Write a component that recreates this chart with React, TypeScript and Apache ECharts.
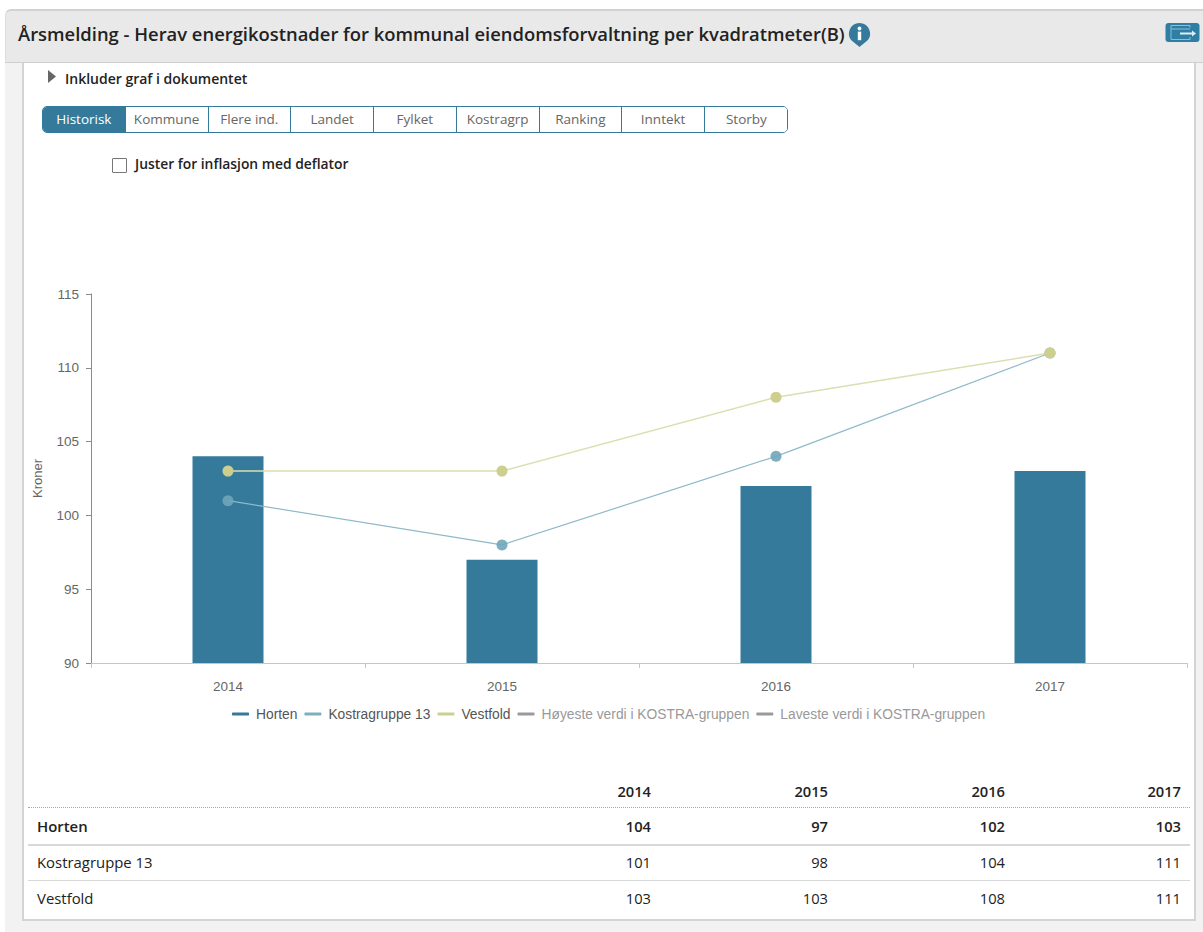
import React, { useEffect, useRef } from "react";
import * as echarts from "echarts";

const title = "Årsmelding - Herav energikostnader for kommunal eiendomsforvaltning per kvadratmeter(B)";
const tabs = ["Historisk", "Kommune", "Flere ind.", "Landet", "Fylket", "Kostragrp", "Ranking", "Inntekt", "Storby"];
const years = ["2014", "2015", "2016", "2017"];
const horten = [104, 97, 102, 103];
const kostragruppe = [101, 98, 104, 111];
const vestfold = [103, 103, 108, 111];
const highName = "Høyeste verdi i KOSTRA-gruppen";
const lowName = "Laveste verdi i KOSTRA-gruppen";
const rows = [
  { name: "Horten", values: horten, bold: true },
  { name: "Kostragruppe 13", values: kostragruppe, bold: false },
  { name: "Vestfold", values: vestfold, bold: false },
];
const rowTops = [808, 845, 880];
const rowHeights = [36, 34, 36];
const yearRight = [651, 828, 1005, 1181];

const BLUE = "#367a9b";
const TEAL = "#6fa6ba";
const KHAKI = "#cccf8e";
const UI = "'Open Sans', sans-serif";
const CHART = "'Liberation Sans', Arial, sans-serif";

function abs(left: number, top: number, width: number, height: number): React.CSSProperties {
  return { position: "absolute", left, top, width, height, boxSizing: "border-box" };
}

export default function App() {
  const ref = useRef<HTMLDivElement>(null);
  useEffect(() => {
    document.body.style.margin = "0";
    const chart = echarts.init(ref.current!, undefined, { renderer: "svg" });
    const legendText = (color: string) => ({ color, fontSize: 13.8, fontFamily: CHART, padding: [0, 0, 0, 2] });
    chart.setOption({
      animation: false,
      grid: { left: 66, right: 8, top: 54, bottom: 77 },
      legend: {
        left: 209,
        top: 467,
        padding: 0,
        itemWidth: 17,
        itemHeight: 3,
        itemGap: 7,
        icon: "roundRect",
        selectedMode: false,
        data: [
          { name: "Horten", textStyle: legendText("#555") },
          { name: "Kostragruppe 13", textStyle: legendText("#555") },
          { name: "Vestfold", textStyle: legendText("#555") },
          { name: highName, textStyle: legendText("#999") },
          { name: lowName, textStyle: legendText("#999") },
        ],
      },
      xAxis: {
        type: "category",
        data: years,
        axisLine: { lineStyle: { color: "#c6c6c6", width: 1 } },
        axisTick: { show: true, length: 5, alignWithLabel: false, lineStyle: { color: "#c6c6c6" } },
        axisLabel: { color: "#666", fontSize: 13.5, fontFamily: CHART, margin: 16 },
      },
      yAxis: {
        type: "value",
        min: 90,
        max: 115,
        interval: 5,
        name: "Kroner",
        nameLocation: "middle",
        nameGap: 47,
        nameRotate: 90,
        nameTextStyle: { color: "#666", fontSize: 13, fontFamily: CHART },
        splitLine: { show: false },
        axisLine: { show: true, lineStyle: { color: "#8a8a8a", width: 1 } },
        axisTick: { show: true, length: 5, lineStyle: { color: "#8a8a8a" } },
        axisLabel: { color: "#666", fontSize: 13.5, fontFamily: CHART, margin: 12 },
      },
      series: [
        { name: "Horten", type: "bar", data: horten, barWidth: 71, itemStyle: { color: BLUE } },
        {
          name: "Kostragruppe 13", type: "line", data: kostragruppe, symbol: "circle", symbolSize: 11,
          lineStyle: { color: "#8fb9c9", width: 1.2 }, itemStyle: { color: TEAL, opacity: 0.9 },
        },
        {
          name: "Vestfold", type: "line", data: vestfold, symbol: "circle", symbolSize: 11,
          lineStyle: { color: "#dcdeb0", width: 1.5 }, itemStyle: { color: KHAKI },
        },
        { name: highName, type: "line", data: [], itemStyle: { color: "#9a9a9a" } },
        { name: lowName, type: "line", data: [], itemStyle: { color: "#9a9a9a" } },
      ],
    });
    return () => chart.dispose();
  }, []);

  return (
    <div style={{ ...abs(0, 0, 1203, 932), background: "#fff", overflow: "hidden", fontFamily: UI, color: "#222" }}>
      <div style={{ ...abs(5, 62, 1198, 870), background: "#f2f2f2" }} />
      <div style={{ ...abs(22, 62, 1174, 859), background: "#fff", borderLeft: "2px solid #d4d4d4", borderRight: "2px solid #d4d4d4", borderBottom: "2px solid #d4d4d4" }} />
      <div style={{ ...abs(5, 9, 1198, 54), background: "#e9e9e9", borderTop: "2px solid #d2d2d2", borderLeft: "1px solid #ddd", borderBottom: "1px solid #cfcfcf", borderTopLeftRadius: 6 }} />
      <div style={{ position: "absolute", left: 18, top: 21, fontSize: 18.4, fontWeight: 600, lineHeight: "26px", whiteSpace: "nowrap", color: "#222" }}>{title}</div>

      <svg style={{ position: "absolute", left: 848, top: 22 }} width="23" height="26" viewBox="0 0 23 26">
        <path d="M11.5 1 a10.5 10.5 0 0 1 7 18.3 L11.5 25 L4.5 19.3 A10.5 10.5 0 0 1 11.5 1 Z" fill={BLUE} />
        <circle cx="11.5" cy="6.5" r="1.9" fill="#fff" />
        <rect x="9.8" y="9.6" width="3.4" height="8.6" fill="#fff" />
      </svg>
      <svg style={{ position: "absolute", left: 1165, top: 23 }} width="35" height="20" viewBox="0 0 35 20">
        <rect x="0.5" y="0" width="34" height="19" rx="3" fill="#2f7fa5" />
        <path d="M25 4.5V2.5H6V16.5H25V14M6 6H25" fill="none" stroke="#8fbdd2" strokeWidth="1" />
        <path d="M15 10.5H29" stroke="#dfeef5" strokeWidth="2" />
        <path d="M27 7.5L31 10.5L27 13.5Z" fill="#dfeef5" />
      </svg>

      <svg style={{ position: "absolute", left: 47, top: 70 }} width="10" height="14" viewBox="0 0 10 14"><path d="M1 0L9 6.5L1 13Z" fill="#666" /></svg>
      <div style={{ position: "absolute", left: 65, top: 69, fontSize: 14, fontWeight: 600, lineHeight: "20px", whiteSpace: "nowrap" }}>Inkluder graf i dokumentet</div>

      <div style={{ ...abs(42, 106, 746, 27), border: `1px solid ${BLUE}`, borderRadius: 5, overflow: "hidden", display: "flex" }}>
        {tabs.map((t, i) => (
          <div key={t} style={{
            width: 82.75, flex: "none", boxSizing: "border-box", textAlign: "center", lineHeight: "25px", fontSize: 13.5,
            background: i === 0 ? BLUE : "#fff", color: i === 0 ? "#fff" : "#666",
            borderRight: i < tabs.length - 1 ? `1px solid ${BLUE}` : "none",
          }}>{t}</div>
        ))}
      </div>

      <div style={{ ...abs(112, 158, 15, 15), border: "1px solid #777", borderRadius: 1, background: "#fff" }} />
      <div style={{ position: "absolute", left: 135, top: 154, fontSize: 13.85, fontWeight: 600, lineHeight: "20px", whiteSpace: "nowrap" }}>Juster for inflasjon med deflator</div>

      <div ref={ref} style={abs(23, 240, 1172, 500)} />

      {years.map((y, i) => (
        <div key={y} style={{ position: "absolute", right: 1203 - yearRight[i], top: 781, fontSize: 14.7, fontWeight: 600, lineHeight: "20px" }}>{y}</div>
      ))}
      <div style={{ ...abs(28, 807, 1162, 2), borderTop: "1px dotted #aaa" }} />
      {rows.map((r, ri) => (
        <React.Fragment key={r.name}>
          <div style={{ position: "absolute", left: 37, top: rowTops[ri], lineHeight: `${rowHeights[ri]}px`, fontSize: 14.9, fontWeight: r.bold ? 600 : 400, whiteSpace: "nowrap" }}>{r.name}</div>
          {r.values.map((v, i) => (
            <div key={i} style={{ position: "absolute", right: 1203 - yearRight[i], top: rowTops[ri], lineHeight: `${rowHeights[ri]}px`, fontSize: 14.7, fontWeight: r.bold ? 600 : 400 }}>{v}</div>
          ))}
          {ri < 2 && <div style={{ ...abs(28, ri === 0 ? 844 : 880, 1162, ri === 0 ? 2 : 1), background: "#d8d8d8" }} />}
        </React.Fragment>
      ))}
    </div>
  );
}
